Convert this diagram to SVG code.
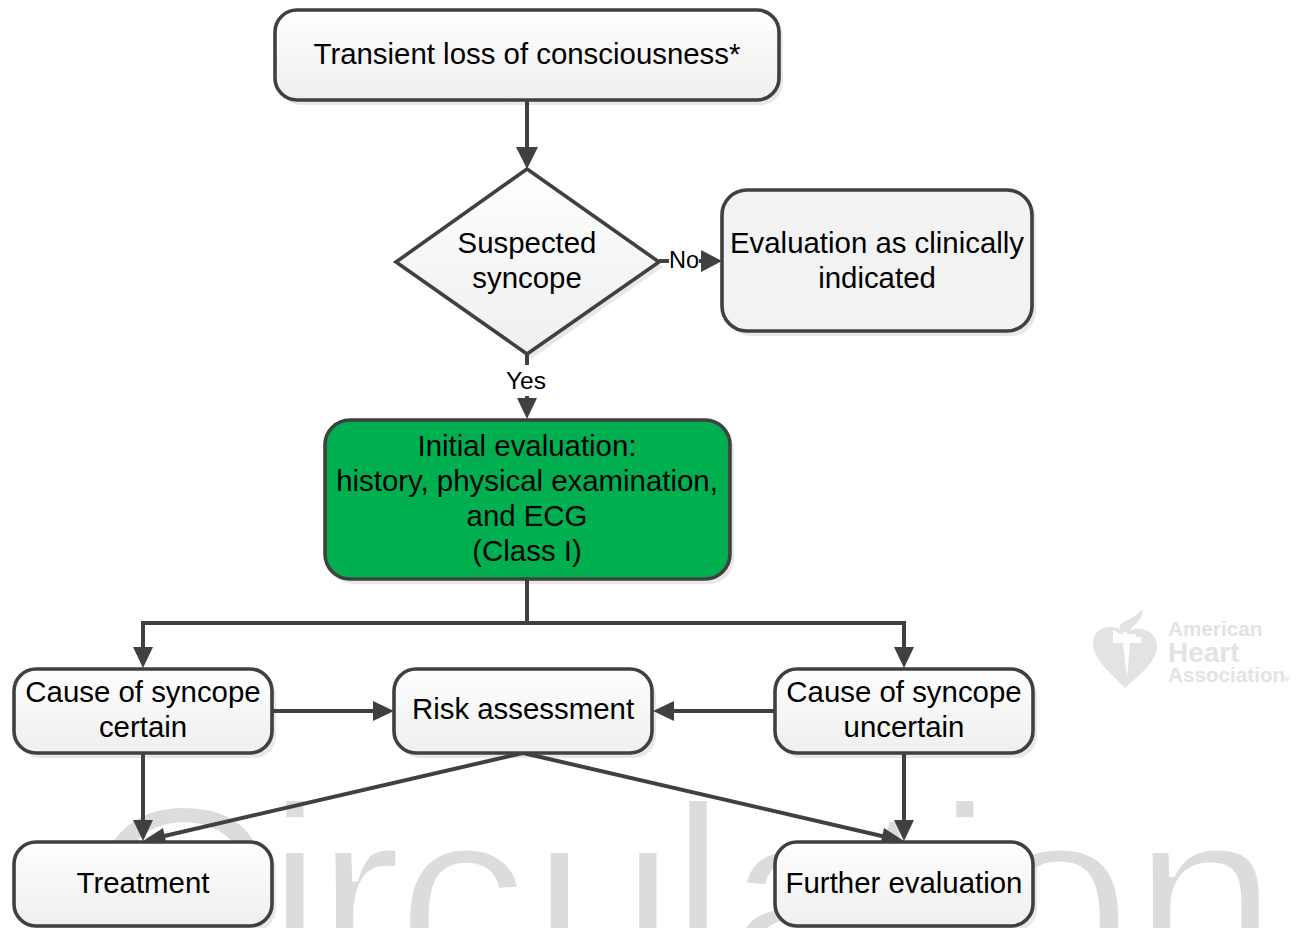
<svg xmlns="http://www.w3.org/2000/svg" width="1299" height="928" viewBox="0 0 1299 928">
<style>
text{font-family:"Liberation Sans",Arial,sans-serif;fill:#000}
.t{font-size:29.4px;text-anchor:middle}
.l{font-size:23.5px;text-anchor:middle}
.n{stroke:#404040;stroke-width:3.6;fill:url(#g)}
.s{fill:#d9d9d9;opacity:.6}
.c{stroke:#404040;stroke-width:4;fill:none}
.a{fill:#404040}
.w{font-size:265px;stroke:#fff;stroke-width:6}
.lg{font-weight:bold;fill:#e3e3e3}
</style>
<defs>
<linearGradient id="g" x1="0" y1="0" x2="0" y2="1"><stop offset="0" stop-color="#fff"/><stop offset=".5" stop-color="#f6f6f6"/><stop offset="1" stop-color="#efefef"/></linearGradient>
</defs>
<g id="watermark">
<text class="w" y="990" x="82 265.500 314.500 396 530.500 668.500 726 859 935.500 985 1131.500" style="fill:#dcdcdc">Circulation</text>
</g>
<g id="logo">
<path class="lg" d="M1125 688C1112 674 1093 660 1093 643C1093 632 1102 626 1113 627C1119 628 1123 631 1125 635C1128 631 1133 628 1140 629C1150 630 1157 636 1157 646C1157 662 1138 676 1125 688Z"/>
<path d="M1113 637H1141V643H1130L1127 678L1123 643H1113Z" fill="#fff"/>
<path d="M1113 630L1120 634H1136V637H1113Z" fill="#fff"/>
<path class="lg" d="M1120 630C1117 620 1133 622 1142 609C1143 618 1138 622 1133 626C1131 628 1130 629 1130 632H1120Z"/>
<text class="lg" x="1168" y="636" font-size="20.700">American</text>
<text class="lg" x="1168" y="662" font-size="28">Heart</text>
<text class="lg" x="1168" y="682" font-size="20.700">Association</text>
<text class="lg" x="1284" y="682" font-size="8">®</text>
</g>
<g id="shadows">
<rect class="s" x="279" y="15" width="504" height="90" rx="22"/>
<path class="s" d="M400 267L531 174L663 267L531 359Z"/>
<rect class="s" x="726" y="195" width="310" height="141" rx="25"/>
<rect class="s" x="329" y="425" width="405" height="159" rx="25"/>
<rect class="s" x="18" y="674" width="258" height="84" rx="22"/>
<rect class="s" x="398" y="674" width="258" height="84" rx="22"/>
<rect class="s" x="779" y="674" width="258" height="84" rx="22"/>
<rect class="s" x="18" y="847" width="258" height="84" rx="22"/>
<rect class="s" x="779" y="847" width="258" height="84" rx="22"/>
</g>
<g id="connectors">
<path class="c" d="M527 100V150"/><path class="a" d="M516 147H538L527 169Z"/>
<path class="c" d="M659 261H669M699 261H704"/><path class="a" d="M701 250V272L722 261Z"/>
<path class="c" d="M527 354V365M527 396V400"/><path class="a" d="M517 398H537L527 419Z"/>
<path class="c" d="M527 579V623M143 649V623H904V649"/>
<path class="a" d="M133 647H153L143 668Z"/><path class="a" d="M894 647H914L904 668Z"/>
<path class="c" d="M272 711H375M775 711H672"/>
<path class="a" d="M373 701V721L394 711Z"/><path class="a" d="M674 701V721L653 711Z"/>
<path class="c" d="M143 753V822M904 753V822"/>
<path class="a" d="M133 820H153L143 841Z"/><path class="a" d="M894 820H914L904 841Z"/>
<path class="c" d="M523 753L160 837M523 753L886 837"/>
<path class="a" d="M143 841L163 828L167 846Z"/><path class="a" d="M904 841L884 828L880 846Z"/>
</g>
<g id="top"><rect class="n" x="275" y="10" width="504" height="90" rx="22"/><text class="t" x="527" y="63.500">Transient loss of consciousness*</text></g>
<g id="suspected"><path class="n" d="M396 262L527 169L659 262L527 354Z"/><text class="t" x="527" y="252.500">Suspected</text><text class="t" x="527" y="287.500">syncope</text></g>
<g id="other"><rect class="n" x="722" y="190" width="310" height="141" rx="25" style="fill:#f2f2f2"/><text class="t" x="877" y="252.500">Evaluation as clinically</text><text class="t" x="877" y="287.500">indicated</text></g>
<g id="initial"><rect class="n" x="325" y="420" width="405" height="159" rx="25" style="fill:#00b050"/><text class="t" x="527" y="456">Initial evaluation:</text><text class="t" x="527" y="491">history, physical examination,</text><text class="t" x="527" y="526">and ECG</text><text class="t" x="527" y="561">(Class I)</text></g>
<g id="certain"><rect class="n" x="14" y="669" width="258" height="84" rx="22"/><text class="t" x="143" y="702">Cause of syncope</text><text class="t" x="143" y="737">certain</text></g>
<g id="risk"><rect class="n" x="394" y="669" width="258" height="84" rx="22"/><text class="t" x="523" y="719">Risk assessment</text></g>
<g id="uncertain"><rect class="n" x="775" y="669" width="258" height="84" rx="22"/><text class="t" x="904" y="702">Cause of syncope</text><text class="t" x="904" y="737">uncertain</text></g>
<g id="treatment"><rect class="n" x="14" y="842" width="258" height="84" rx="22"/><text class="t" x="143" y="893">Treatment</text></g>
<g id="further"><rect class="n" x="775" y="842" width="258" height="84" rx="22"/><text class="t" x="904" y="893">Further evaluation</text></g>
<g id="labels"><text class="l" x="684" y="268">No</text><text class="l" x="526" y="389" style="font-size:24.500px">Yes</text></g>
</svg>
